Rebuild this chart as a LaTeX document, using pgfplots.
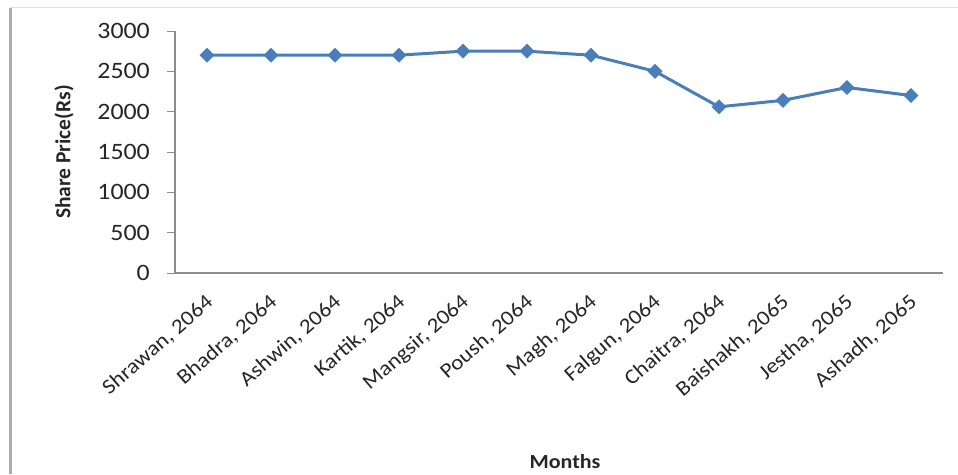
\documentclass[border=0pt]{standalone}
\usepackage{pgfplots}
\pgfplotsset{compat=1.18}
\usepackage{fontspec}
\setmainfont{Carlito}[FakeStretch=1.1]
\newfontfamily\labelfont{Carlito}
\definecolor{linec}{HTML}{4A7EBB}
\definecolor{axisgray}{HTML}{8C8C8C}
\begin{document}
\begin{tikzpicture}[x=1pt,y=1pt]
\path[use as bounding box] (0,0) rectangle (958,474);
% chart area border
\draw[gray!65, line width=3pt] (10,0) -- (10,466);
\draw[gray!25, line width=1pt] (10,466) -- (958,466);
\begin{axis}[
  at={(175pt,201pt)}, anchor=south west,
  scale only axis, width=768pt, height=242pt,
  xmin=-0.5, xmax=11.5, ymin=0, ymax=3000,
  axis x line=bottom, axis y line=left,
  axis line style={-, draw=axisgray, line width=1.2pt},
  xtick={0,...,11},
  xticklabels={{Shrawan, 2064},{Bhadra, 2064},{Ashwin, 2064},{Kartik, 2064},{Mangsir, 2064},{Poush, 2064},{Magh, 2064},{Falgun, 2064},{Chaitra, 2064},{Baishakh, 2065},{Jestha, 2065},{Ashadh, 2065}},
  xticklabel style={xshift=4pt, yshift=-18pt, rotate=41, anchor=east, font=\fontsize{21}{22}\selectfont, text=black!85, inner sep=1pt},
  xtick style={draw=none},
  ytick={0,500,...,3000},
  yticklabel style={font=\fontsize{23.5}{24}\selectfont, text=black!85, inner sep=0pt, xshift=-17pt},
  /pgf/number format/assume math mode=true,
  /pgf/number format/1000 sep={},
  tick align=outside, major tick length=8pt,
  ytick style={draw=axisgray, line width=1pt},
  clip=false,
]
\addplot[color=linec, line width=3pt, mark=square*, mark size=5pt,
  mark options={rotate=45, fill=linec, draw=linec, line width=0.5pt}]
coordinates {
(0,2700) (1,2700) (2,2700) (3,2700) (4,2750) (5,2750)
(6,2700) (7,2500) (8,2060) (9,2140) (10,2300) (11,2200)
};
\end{axis}
\node[rotate=90, font=\labelfont\fontsize{21.5}{22}\selectfont\bfseries, text=black!85] at (64,322) {Share Price(Rs)};
\node[font=\fontsize{20}{22}\selectfont\bfseries, text=black!85] at (565,12) {Months};
\end{tikzpicture}
\end{document}
